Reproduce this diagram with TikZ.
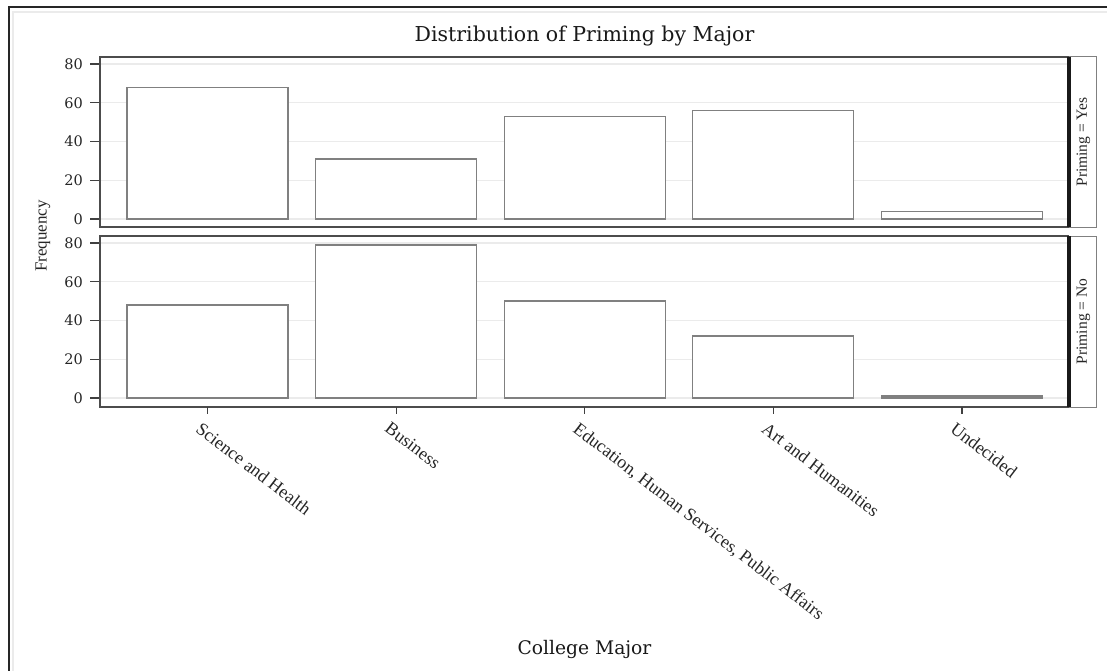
\documentclass[tikz,border=0pt]{standalone}
\usepackage{fontspec}
\setmainfont{Liberation Serif}
\newfontfamily\dvserif{DejaVu Serif}
\begin{document}
\begin{tikzpicture}[x=1pt,y=-1pt,
  panelframe/.style={draw=black!70,line width=1.5pt},
  panelright/.style={draw=black!90,line width=3.5pt},
  stripbox/.style={draw=black!50,line width=1pt},
  gridline/.style={draw=black!8,line width=1.2pt},
  barbox/.style={draw=black!50,line width=1.3pt,fill=white},
  tickmark/.style={draw=black!75,line width=1.2pt},
  ticklab/.style={font=\dvserif\fontsize{14.5}{15}\selectfont,anchor=east,inner sep=0pt,text=black!85},
  catlab/.style={font=\fontsize{18}{18}\selectfont,anchor=north west,inner sep=0pt,rotate=-37.5,text=black!85},
  striplab/.style={font=\fontsize{15.5}{16}\selectfont,rotate=90,inner sep=0pt,text=black!85},
  ]
\useasboundingbox (0,0) rectangle (1107,671);
\fill[white] (0,0) rectangle (1107,671);

% outer border of the graph
\draw[black!8,line width=1.5pt] (13,671) -- (13,12) -- (1107,12);
\draw[black!85,line width=2pt] (9,671) -- (9,7.5) -- (1107,7.5);

% title
\node[font=\dvserif\fontsize{20.5}{22}\selectfont,anchor=base,text=black!90] (title) at (584.5,41.5) {Distribution of Priming by Major};

% ---------- upper panel: Priming = Yes ----------
\foreach \v in {0,20,40,60,80}
  \draw[gridline] (100,{219-1.9375*\v}) -- (1069,{219-1.9375*\v});
\foreach \i/\v in {0/68,1/31,2/53,3/56,4/4}
  \draw[barbox] ({207.5+188.6*\i-80.5},219) rectangle ({207.5+188.6*\i+80.5},{219-1.9375*\v});
\foreach \v in {0,20,40,60,80}{
  \draw[tickmark] (90,{219-1.9375*\v}) -- (100,{219-1.9375*\v});
  \node[ticklab] (yu\v) at (83,{219-1.9375*\v}) {\v};
}
\draw[stripbox] (1069,57) rectangle (1096,227);
\draw[panelframe] (1069,57) -- (100,57) -- (100,227) -- (1069,227);
\draw[panelright] (1069,57) -- (1069,227);
\node[striplab] (stripyes) at (1083.5,142) {Priming = Yes};

% ---------- lower panel: Priming = No ----------
\foreach \v in {0,20,40,60,80}
  \draw[gridline] (100,{398-1.9375*\v}) -- (1069,{398-1.9375*\v});
\foreach \i/\v in {0/48,1/79,2/50,3/32,4/1}
  \draw[barbox] ({207.5+188.6*\i-80.5},398) rectangle ({207.5+188.6*\i+80.5},{398-1.9375*\v});
\foreach \v in {0,20,40,60,80}{
  \draw[tickmark] (90,{398-1.9375*\v}) -- (100,{398-1.9375*\v});
  \node[ticklab] (yl\v) at (83,{398-1.9375*\v}) {\v};
}
\draw[stripbox] (1069,236) rectangle (1096,407);
\draw[panelframe] (1069,236) -- (100,236) -- (100,407) -- (1069,407);
\draw[panelright] (1069,236) -- (1069,407);
\node[striplab] (stripno) at (1083.5,321.5) {Priming = No};

% category axis
\foreach \i in {0,...,4}
  \draw[tickmark] ({207.5+188.6*\i},407) -- ({207.5+188.6*\i},414);
\node[catlab] (cat0) at (202.5,421) {Science and Health};
\node[catlab] (cat1) at (391.1,421) {Business};
\node[catlab] (cat2) at (579.7,421) {Education, Human Services, Public Affairs};
\node[catlab] (cat3) at (768.3,421) {Art and Humanities};
\node[catlab] (cat4) at (956.9,421) {Undecided};

% axis labels
\node[font=\fontsize{17}{18}\selectfont,rotate=90,text=black!85] (ylab) at (43,236) {Frequency};
\node[font=\dvserif\fontsize{18.7}{20}\selectfont,anchor=base,text=black!90] (xlab) at (584.5,654) {College Major};
\end{tikzpicture}
\end{document}
